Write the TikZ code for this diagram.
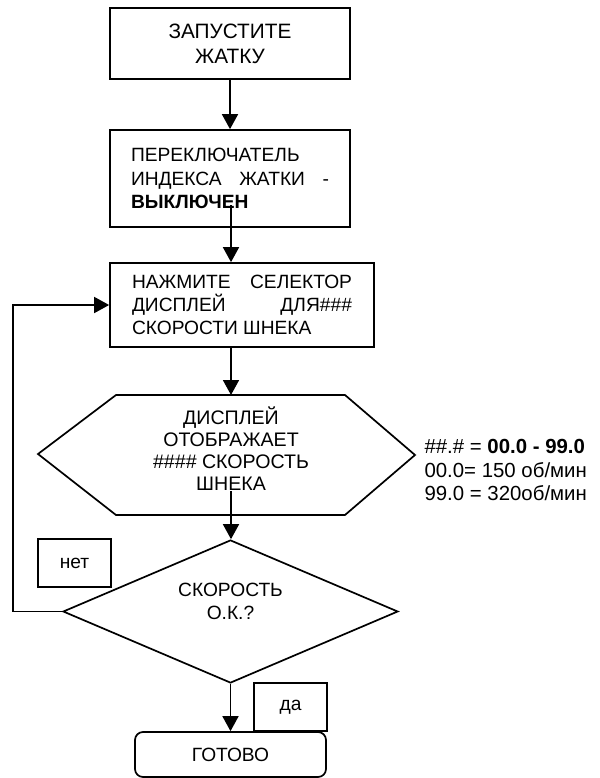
\documentclass[tikz,border=0pt]{standalone}
\usepackage{fontspec}
\setsansfont{Liberation Sans}
\usetikzlibrary{arrows.meta,shapes.geometric}

\begin{document}
\begin{tikzpicture}[
  x=0.5pt, y=-0.5pt,
  font=\sffamily\fontsize{9.6}{11.6}\selectfont,
  line width=0.85pt,
  arr/.style={-{Triangle[length=7.5pt,width=8pt]}, line width=0.85pt},
  box/.style={draw, rectangle, inner sep=0pt, align=center},
  txtbox/.style={box, align=justify},
  tag/.style={draw, rectangle, minimum width=36.5pt, minimum height=24pt, inner sep=0pt}
]
\useasboundingbox (0,0) rectangle (600,778);

\node[box, minimum width=120pt, minimum height=35.5pt, font=\sffamily\fontsize{10.4}{12.5}\selectfont] (start) at (230,43.5) {ЗАПУСТИТЕ\\ЖАТКУ};
\node[txtbox, minimum width=120pt, minimum height=48.5pt, text width=99pt] (switch) at (230,178.5)
  {ПЕРЕКЛЮЧАТЕЛЬ\\ИНДЕКСА ЖАТКИ -\linebreak \textbf{ВЫКЛЮЧЕН}};
\node[txtbox, minimum width=132pt, minimum height=42pt, text width=110pt] (press) at (242,305)
  {НАЖМИТЕ СЕЛЕКТОР\linebreak ДИСПЛЕЙ ДЛЯ\#\#\#\linebreak СКОРОСТИ ШНЕКА};

% display hexagon
\draw (38,454) -- (116,395) -- (345,395) -- (415,455) -- (345,515) -- (116,515) -- cycle;
\coordinate (hexN) at (231,395);
\node[align=center, font=\sffamily\fontsize{9.8}{11}\selectfont] (disp) at (231,449) {ДИСПЛЕЙ\\ОТОБРАЖАЕТ\\\#\#\#\# СКОРОСТЬ\\ШНЕКА};
\node[anchor=west, align=left, font=\sffamily\fontsize{10.2}{11.6}\selectfont] (range) at (417,470)
  {\#\#.\# = \textbf{00.0 - 99.0}\\00.0= 150 об/мин\\99.0 = 320об/мин};

\node[draw, diamond, minimum width=167.5pt, minimum height=71.5pt, inner sep=0pt] (check) at (230.5,611.5) {};
\node[align=center] (okq) at (230.5,601) {СКОРОСТЬ\\О.К.?};

\node[tag] (no) at (74.5,563) {нет};
\node[tag] (yes) at (290.5,707) {да};
\node[box, rounded corners=4pt, minimum width=95.5pt, minimum height=22.5pt] (done) at (230.5,754.5) {ГОТОВО};

\coordinate (c2) at (231,205);
\coordinate (c4) at (231,491);
\draw[arr] (start) -- (switch);
\draw[arr] (c2) -- (c2 |- press.north);
\draw[arr] (c2 |- press.south) -- (hexN);
\draw[arr] (c4) -- (c4 |- check.north);
\draw[arr] (check.south) -- (done.north);
\draw[arr] (check.west) -- ++(-49,0) |- (press.west);

\end{tikzpicture}
\end{document}
